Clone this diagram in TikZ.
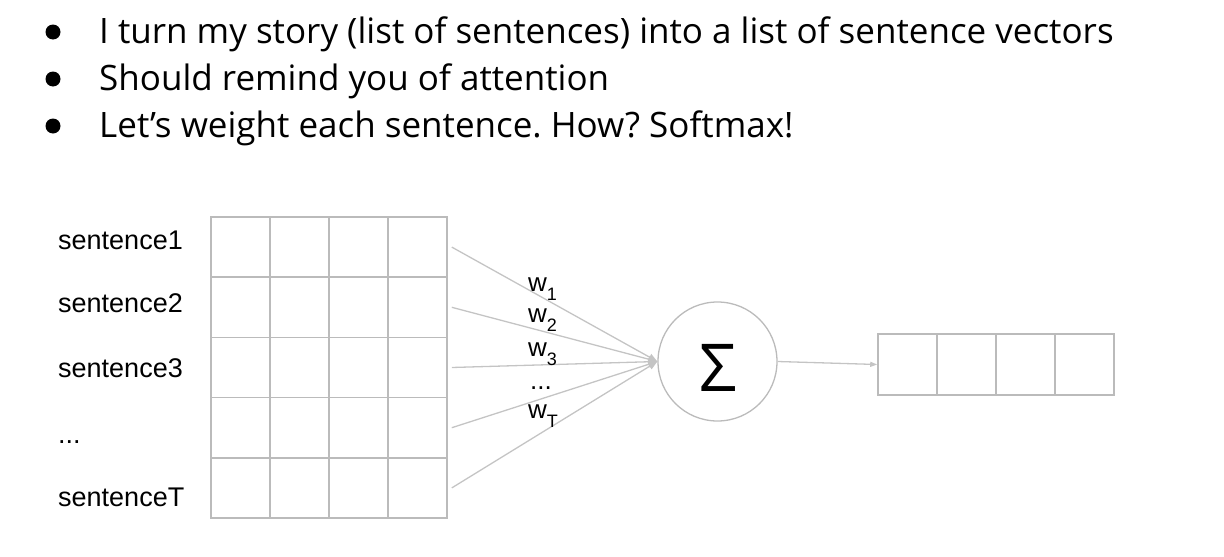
\documentclass[tikz,border=0pt]{standalone}
\usepackage{fontspec}
\setmainfont{Open Sans}
\newfontfamily\arialfont{Liberation Sans}
\usetikzlibrary{arrows.meta}
\definecolor{linegray}{HTML}{C4C4C4}
\definecolor{gridgray}{HTML}{BBBBBB}
\frenchspacing

\begin{document}
\begin{tikzpicture}[x=1pt,y=-1pt,
  bullettext/.style={anchor=base west, inner sep=0, font=\fontsize{35}{40}\selectfont},
  bulletdot/.style={circle, fill=black, inner sep=0, minimum size=15pt},
  sentlabel/.style={anchor=base west, inner sep=0, font=\arialfont\fontsize{27}{30}\selectfont},
  wlabel/.style={anchor=base west, inner sep=0, font=\arialfont\fontsize{26}{28}\selectfont},
  cell/.style={draw=gridgray, line width=1.6pt, minimum width=59pt, minimum height=60.2pt, inner sep=0},
  outcell/.style={draw=gridgray, line width=1.6pt, minimum width=59pt, minimum height=61pt, inner sep=0},
  sumnode/.style={circle, draw=gridgray, line width=1.3pt, minimum size=119pt, inner sep=0},
  conn/.style={draw=linegray, line width=1.3pt, -{Triangle[length=9pt,width=7pt]}},
]
\newcommand{\wsub}[1]{{\fontsize{18}{18}\selectfont\raisebox{-9pt}{#1}}}
\useasboundingbox (0,0) rectangle (1224,557);

% bullet list
\node[bulletdot] (b1) at (53,32) {};
\node[bulletdot] (b2) at (53,79) {};
\node[bulletdot] (b3) at (53,126) {};
\node[bullettext] (t1) at (99,43) {I turn my story (list of sentences) into a list of sentence vectors};
\node[bullettext] (t2) at (99,90) {Should remind you of attention};
\node[bullettext] (t3) at (99,137) {Let’s weight each sentence. How? Softmax!};

% sentence labels
\node[sentlabel] (s1) at (58,249) {sentence1};
\node[sentlabel] (s2) at (58,312) {sentence2};
\node[sentlabel] (s3) at (58,377) {sentence3};
\node[sentlabel] (sd) at (58,443) {...};
\node[sentlabel] (sT) at (58,506) {sentenceT};

% sentence-vector grid
\foreach \r in {1,...,5}{
  \foreach \c in {1,...,4}{
    \node[cell] (g-\r-\c) at ({211+59*(\c-0.5)},{217+60.2*(\r-0.5)}) {};
  }
}

% weighted sum
\node[sumnode] (sum) at (717.5,361.5) {};
\node[inner sep=0, font=\fontsize{66}{66}\selectfont] (sigma) at (718,368) {Σ};

\foreach \r in {1,...,5}{
  \draw[conn] ([xshift=4pt]g-\r-4.east) -- (sum.west);
}

% weight labels
\node[wlabel] (w1) at (528,291) {w\wsub{1}};
\node[wlabel] (w2) at (528,322) {w\wsub{2}};
\node[wlabel] (w3) at (528,356) {w\wsub{3}};
\node[wlabel] (wd) at (530,389) {...};
\node[wlabel] (wT) at (528,418) {w\wsub{T}};

% output vector
\foreach \c in {1,...,4}{
  \node[outcell] (o-\c) at ({878+59*(\c-0.5)},364.5) {};
}
\draw[draw=linegray, line width=1.3pt, -{Triangle[length=7pt,width=5pt]}] (sum.east) -- (o-1.west);
\end{tikzpicture}
\end{document}
